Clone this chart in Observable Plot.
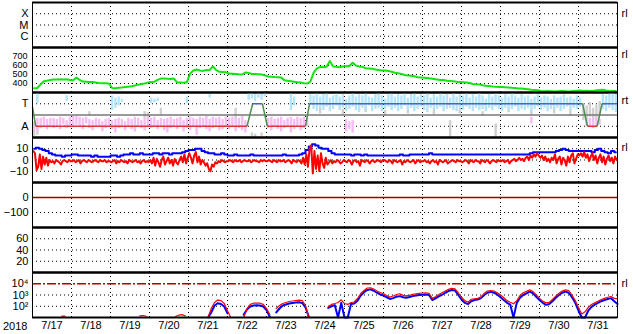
<!DOCTYPE html>
<html><head><meta charset="utf-8">
<script src="https://cdn.jsdelivr.net/npm/d3@7"></script>
<script src="https://cdn.jsdelivr.net/npm/@observablehq/plot@0.6"></script>
<style>
html,body{margin:0;padding:0;background:#fff;}
#chart{position:relative;width:633px;height:334px;overflow:hidden;font-family:"Liberation Sans",Arial,sans-serif;}
#year{position:absolute;left:3px;top:320px;font-size:11px;line-height:13px;}
</style></head><body><div id="chart"><div id="year">2018</div></div><script>
// ---------------- data ----------------
const yearLabel = "2018";
const dayLabels = ["7/17","7/18","7/19","7/20","7/21","7/22","7/23","7/24","7/25","7/26","7/27","7/28","7/29","7/30","7/31"];
const xrayTicks = [1e-4, 1e-5, 1e-6];
const xrayLabels = ["X", "M", "C"];
const vswTicks = [400, 500, 600, 700];
const sectorTicks = [1, -1];
const sectorLabels = ["T", "A"];
const bTicks = [10, 0, -10];
const dstTicks = [0, -100];
const kpTicks = [20, 40, 60];
const fluxTicks = [1e2, 1e3, 1e4];
const fluxLabels = ["10\u00b2", "10\u00b3", "10\u2074"];
const fluxAlert = 1e4;

// solar wind speed, 2-hour steps from 7/17 00h (km/s)
const vswValues = [
 348,350,390,425,432,440,445,445,446,444,448,440,
 437,465,440,422,420,418,416,410,405,404,402,400,
 350,348,352,355,360,365,370,378,385,395,400,410,
 418,420,440,455,455,452,450,455,412,410,408,415,
 510,545,555,545,540,550,548,590,550,530,528,524,
 510,508,505,502,500,522,518,505,505,503,500,490,
 478,475,472,470,468,437,430,425,420,415,410,402,
 400,420,520,567,585,580,585,650,590,585,580,588,
 592,595,630,600,590,585,570,568,565,555,550,545,
 545,540,530,520,515,505,495,490,485,480,470,468,
 465,460,455,450,445,440,438,430,428,425,420,418,
 415,410,405,395,392,390,380,375,372,368,365,362,
 360,358,355,352,350,345,345,340,335,330,328,325,
 318,315,316,314,312,315,318,316,312,314,318,320,
 322,318,320,316,318,325,328,330,322,318,316,318];

// sector boundary trace: hours and level (T=1, A=-1)
const sectorHours  = [0, 2, 132, 135.5, 141.5, 144.5, 168, 170.5, 338.5, 341.5, 347.5, 350.5, 360];
const sectorValues = [0.7, -1, -1, 1, 1, -1, -1, 1, 1, -1, -1, 1, 1];

// scatter bands, [startHour, [[lo,hi] per 2-hour bin]]
const awayBands = [
 [0, [[-1.4,-0.9],[-1.5,-0.3],[-1.2,-0.3],[-1.1,-0.2],[-1.3,-0.4],[-1.0,-0.3],[-1.2,-0.3],[-1.1,-0.4],[-1.3,-0.2],[-0.9,-0.3],[-1.2,-0.5],[-1.0,-0.2],
      [-1.1,-0.1],[-0.9,-0.1],[-1.0,-0.2],[-1.3,-0.3],[-0.8,-0.2],[-1.2,-0.4],[-1.4,-0.5],[-1.0,-0.3],[-1.1,-0.4],[-1.5,-0.6],[-1.2,-0.4],[-1.0,-0.3],
      [-1.3,-0.5],[-1.6,-0.4],[-1.2,-0.3],[-1.0,-0.4],[-1.4,-0.6],[-1.1,-0.3],[-1.3,-0.4],[-1.5,-0.2],[-1.0,-0.3],[-1.2,-0.5],[-1.4,-0.3],[-1.1,-0.2],
      [-1.2,-0.3],[-1.0,-0.2],[-1.3,-0.5],[-1.1,-0.3],[-1.4,-0.4],[-1.6,-0.3],[-1.2,-0.2],[-1.0,-0.4],[-1.3,-0.3],[-1.1,-0.2],[-1.5,-0.5],[-1.2,-0.3],
      [-1.4,-0.2],[-1.1,-0.3],[-1.8,-0.4],[-1.2,-0.2],[-1.0,-0.3],[-1.3,-0.1],[-1.5,-0.4],[-1.2,-0.2],[-1.1,-0.3],[-1.4,-0.2],[-1.3,-0.4],[-1.0,-0.2],
      [-1.3,-0.3],[-1.1,-0.2],[-1.5,-0.4],[-1.2,-0.3],[-1.4,-0.2],[-1.6,-0.5]]],
 [144, [[-1.2,-0.3],[-1.4,-0.2],[-1.0,-0.4],[-1.3,-0.3],[-1.5,-0.2],[-1.2,-0.5],[-1.1,-0.3],[-1.6,-0.2],[-1.3,-0.4],[-1.0,-0.2],[-1.4,-0.3],[-1.2,-0.2],[-1.0,-0.3]]],
 [192, [[-1.5,-0.4],[-1.3,-0.6],[-1.6,-0.5]]],
 [306, [[-0.8,-0.2]]],
 [340, [[-1.0,-0.4],[-1.1,-0.3],[-1.2,-0.3],[-1.0,-0.2],[-0.9,-0.4]]]
];
const towardBands = [
 [2, [[1.0,1.9]]],
 [20, [[1.2,1.7]]],
 [48, [[0.4,1.7],[0.6,1.5],[0.8,1.6],[1.1,1.4]]],
 [72, [[1.0,1.5],[1.1,1.4],[1.2,1.5]]],
 [94, [[1.0,1.6]]],
 [108, [[1.5,1.8]]],
 [132, [[1.3,1.9],[1.4,1.9],[1.2,1.8],[1.5,1.9],[1.3,1.8],[1.6,1.9]]],
 [158, [[0.4,1.9],[0.8,1.6]]],
 [170, [[0.9,1.8],[0.5,1.7],[0.3,1.9],[0.6,1.6],[0.4,1.8],[0.7,1.9],[0.3,1.5],[0.5,1.7],[0.8,1.9],[0.4,1.6],[0.6,1.8],[0.3,1.4],[0.5,1.7],[0.7,1.9],[0.4,1.6],
        [0.2,1.8],[0.6,1.7],[0.4,1.9],[0.8,1.6],[0.3,1.5],[0.5,1.8],[0.6,1.9],[0.3,1.7],[0.5,1.4],[0.7,1.8],[0.4,1.9],[0.6,1.6],[0.3,1.8],[0.5,1.7],[0.8,1.9],
        [0.4,1.5],[0.6,1.8],[0.3,1.9],[0.5,1.6],[0.7,1.8],[0.4,1.7],[0.2,1.9],[0.6,1.5],[0.4,1.8],[0.5,1.6],[0.7,1.9],[0.3,1.7],[0.5,1.8],[0.6,1.5],[0.4,1.9],
        [0.3,1.6],[0.6,1.8],[0.4,1.7],[0.7,1.9],[0.5,1.5],[0.3,1.8],[0.6,1.6],[0.4,1.9],[0.5,1.7],[0.3,1.4],[0.6,1.8],[0.4,1.6],[0.7,1.9],[0.5,1.7],[0.3,1.5],
        [0.6,1.8],[0.4,1.6],[0.5,1.9],[0.7,1.7],[0.3,1.5],[0.5,1.8],[0.4,1.6],[0.6,1.7],[0.3,1.4],[0.5,1.6],[0.7,1.8],[0.4,1.5],[0.6,1.7],[0.3,1.6],[0.5,1.4],
        [0.4,1.7],[0.6,1.5],[0.3,1.6],[0.5,1.8],[0.7,1.5],[0.4,1.6],[0.6,1.4],[0.5,1.7],[0.7,1.5]]],
 [350, [[0.5,1.8],[0.3,1.7],[0.6,1.9],[0.4,2.0],[0.2,1.8]]]
];
const grayBins = [[0,-1.9,-0.6],[2,-1.8,-1.0],[34,-0.1,0.3],[68,-0.3,0.3],[70,-0.2,0.2],[78,0,0.6],[124,-0.5,0.6],[128,-0.6,-0.1],
 [134,-2,-1.6],[136,-2,-1.7],[140,-1.9,-1.6],[176,0.1,0.6],[190,0,0.5],[204,0.2,0.7],[216,-0.1,0.4],[230,0.1,0.5],[246,0,0.4],
 [256,-2,-0.5],[262,0.1,0.6],[276,-0.1,0.3],[284,-2,-0.8],[292,0.2,0.6],[306,0,0.5],[320,0.1,0.7],[330,-0.1,0.5],
 [338,-0.5,1.0],[340,-0.4,0.8],[342,-0.2,1.1],[344,-0.5,0.6],[346,-0.3,0.9],[348,0,1.2]];

// IMF total field, 2-hour steps (nT)
const btValues = [
 10,11,10,9,8,6,5,4,4,3,4,4,
 5,5,4,4,4,4,3,4,3,3,3,3,
 4,4,3,4,5,5,6,5,5,6,5,5,
 5,6,6,5,6,6,5,6,6,6,7,8,
 9,9,10,10,8,7,6,6,5,5,6,5,
 4,4,5,4,4,4,4,5,4,4,4,4,
 4,4,4,4,4,5,4,4,4,4,5,6,
 9,12,14,13,11,10,10,8,6,5,5,5,
 5,5,4,5,5,4,5,4,4,4,4,4,
 4,4,4,4,4,5,4,4,5,5,5,5,
 5,5,6,5,5,5,5,5,5,5,5,5,
 5,5,5,5,5,5,5,5,5,5,5,5,
 5,5,5,5,5,5,5,5,5,6,7,7,
 7,7,7,7,7,8,9,10,9,8,8,8,
 8,8,8,8,7,9,10,8,7,6,8,7];
// IMF Bz, hourly, one row per day (nT)
const bzByDay = [
 [8,6,-9,-6,5,-8,3,-4,2,-5,0,-2,-1,-3,0,-1,-2,-4,-1,0,-1,-2,0,-1],
 [-1,0,-2,-1,0,-3,-1,0,-1,-2,0,-1,-2,-1,0,-1,-2,0,-1,-1,0,-2,-1,-1],
 [-2,-1,0,-3,-1,-2,0,-1,-2,-1,-3,0,-1,-2,-1,0,-2,-1,-3,-1,0,-2,-1,-2],
 [0,-3,2,-5,1,-2,-6,0,3,-4,-1,2,-3,0,-5,1,-2,-4,0,3,-2,5,-3,2],
 [6,2,-3,4,7,-2,3,-4,0,-2,-5,-3,-8,-10,-4,-6,-2,-3,-1,-2,0,-1,-2,-1],
 [-1,0,-1,-2,0,-1,-1,0,-2,-1,0,-1,-1,0,-2,-1,0,-1,-1,-2,0,-1,0,-1],
 [-1,0,-1,-2,0,-1,-2,0,-1,-1,0,-2,-1,0,-1,-3,0,-1,-2,0,-1,-3,2,-4],
 [5,-6,10,13,-12,8,-8,4,-10,6,-3,-7,2,-4,-2,0,-3,-1,-2,0,-1,-3,-2,0],
 [-1,-2,0,-1,-4,-1,0,-2,-1,-5,0,-1,-2,0,-1,-3,-1,0,-2,-1,0,-1,-2,0],
 [0,-1,-2,0,-1,-3,0,-1,-2,-1,0,-4,-1,-2,0,-1,-2,-1,0,-3,-1,0,-2,-1],
 [-1,0,-2,-1,-3,-1,0,-2,-1,-4,0,-1,-2,-1,0,-3,-2,-1,0,-1,-2,0,-1,-1],
 [-2,-1,0,-1,-3,0,-1,-2,0,-1,-1,-3,0,-1,-2,0,-1,-3,-1,0,-1,-2,0,-1],
 [-1,0,-2,-1,0,-3,-1,0,1,-1,0,2,0,1,-1,2,3,0,4,2,5,3,6,4],
 [2,4,0,3,-1,1,-2,2,0,5,-3,1,3,-4,2,0,-5,3,-2,4,6,-3,1,5],
 [4,6,3,7,2,5,-1,3,6,0,4,-3,2,5,-2,3,-4,1,4,-1,2,-3,3,0]];

const dstLevel = 0;

// particle flux segments: [startHour, values at 2-hour steps]
const fluxRed = [
 [18, [13,13]],
 [66, [14,15,13]],
 [88, [12,16,18,14]],
 [108, [10,63,215,355,316,174,40,10]],
 [130, [10,63,145,186,195,186,145,63,18]],
 [150, [63,117,174,215,265,293,324,355,324,117,10]],
 [182, [95,145,174,215,372,174,145,215,240,490,1350,2510,4170,4365,3390,2290,1660,1290,910,660,813,1100,1290,
        933,851,933,1122,1259,1413,1514,1585,1413,501,708,1122,1585,2239,3162,3981,3548,1585,631,316,229,417,457,501,708,
        1413,2239,2512,2239,1585,1000,562,316,224,166,316,891,1585,2089,2884,1995,1000,501,282,200,224,398,794,1413,2239,
        2818,2512,1000,316,79,20,32,79,141,200,282,398,501,631,741,501,457]]
];
const fluxBlue = [
 [108, [10,28,117,186,158,95,23]],
 [130, [18,51,95,117,123,117,95,47,12]],
 [150, [28,63,117,145,174,195,215,229,195,78,12]],
 [182, [71,100,126,10,200,10,10,158,178,316,891,1778,2818,3162,2399,1585,1122,891,631,447,525,708,794,
        631,562,661,794,891,1000,1047,1122,1000,355,501,759,1047,1585,2239,2818,2512,1000,398,200,158,282,355,398,525,
        1000,1585,1905,1585,1122,631,355,200,141,10,200,562,1000,1413,1995,1413,708,355,200,132,158,282,562,1000,1585,
        1995,1585,631,200,40,10,10,40,89,141,200,282,355,447,525,282,158]]
];

// ---------------- helpers ----------------
const FONT = '"Liberation Sans", Arial, sans-serif';
const t0 = Date.UTC(2018, 6, 17);
const T = h => new Date(t0 + h * 3600e3);
const xDomain = [T(0), T(360)];
const midnights = d3.range(1, 15).map(d => T(24 * d));
const noons = dayLabels.map((_, i) => T(24 * i + 12));
const dayLabelOf = d => dayLabels[Math.round((+d - t0) / 864e5 - 0.5)];
const chart = document.getElementById("chart");
const DOT = "1,3";

function bins(segs) {
  return segs.flatMap(([start, pairs]) => pairs.map(([lo, hi], i) => ({h: start + 2 * i, lo, hi})));
}
function series(segs) {
  return segs.flatMap(([start, vals], s) => vals.map((v, i) => ({h: start + 2 * i, v, s})));
}
function frameMarks(lo, hi) {
  return [Plot.frame({stroke: "black"}), Plot.ruleY([lo, hi], {stroke: "black", strokeWidth: 2})];
}
function vgrid() {
  return Plot.ruleX(midnights, {stroke: "black", strokeDasharray: DOT});
}
function sideLabel(txt, yv, dy = -1) {
  return Plot.text([txt], {x: () => xDomain[1], y: () => yv, text: d => d, dx: 4, dy, textAnchor: "start", fontSize: 11});
}
function addPanel(index, y, marks, opts = {}) {
  const bottom = opts.bottom ?? 1;
  const svg = Plot.plot({
    width: 633, height: 46 + bottom,
    marginLeft: 32, marginRight: 16, marginTop: 1, marginBottom: bottom,
    style: {background: "transparent", overflow: "visible", fontFamily: FONT, fontSize: opts.fontSize ?? "11px", color: "black"},
    x: opts.x ?? {type: "utc", domain: xDomain, axis: null},
    y: {tickSize: 0, tickPadding: 4, label: null, ...y},
    color: {type: "identity"},
    marks
  });
  svg.style.position = "absolute";
  svg.style.left = "0px";
  svg.style.top = (1 + 45 * index) + "px";
  chart.append(svg);
}

// Panel 0: X-ray class
addPanel(0, {type: "log", domain: [1e-7, 1e-3], ticks: xrayTicks, tickFormat: d => xrayLabels[xrayTicks.indexOf(d)]}, [
  vgrid(),
  Plot.ruleY(xrayTicks, {stroke: "black", strokeDasharray: DOT}),
  ...frameMarks(1e-7, 1e-3),
  sideLabel("rl", 1e-4, 0)
]);

// Panel 1: solar wind speed
addPanel(1, {domain: [300, 800], ticks: vswTicks, tickPadding: 5}, [
  vgrid(),
  Plot.ruleY(vswTicks, {stroke: "black", strokeDasharray: DOT}),
  Plot.line(vswValues, {x: (d, i) => T(2 * i + 1), y: d => d, stroke: "#11e611", strokeWidth: 2}),
  ...frameMarks(300, 800),
  sideLabel("rl", 700, -2)
], {fontSize: "9px"});

// Panel 2: sector
const sectorSegs = sectorHours.slice(1).map((h, i) => ({h1: sectorHours[i], v1: sectorValues[i], h2: h, v2: sectorValues[i + 1]}));
addPanel(2, {domain: [-2, 2], ticks: sectorTicks, tickFormat: d => sectorLabels[sectorTicks.indexOf(d)]}, [
  vgrid(),
  Plot.ruleY(sectorTicks, {stroke: "black", strokeDasharray: DOT}),
  Plot.ruleX(grayBins.map(([h, lo, hi]) => ({h, lo, hi})), {x: d => T(d.h + 1), y1: "lo", y2: "hi", stroke: "#d0d0d0", strokeWidth: 2.4}),
  Plot.ruleX(bins(towardBands), {x: d => T(d.h + 1), y1: "lo", y2: "hi", stroke: "#b2e5f7", strokeWidth: 2.4}),
  Plot.ruleX(bins(awayBands), {x: d => T(d.h + 1), y1: "lo", y2: "hi", stroke: "#f6bcf3", strokeWidth: 2.4}),
  Plot.ruleY([0], {stroke: "#777777", strokeWidth: 1.5}),
  Plot.link(sectorSegs, {x1: d => T(d.h1), y1: "v1", x2: d => T(d.h2), y2: "v2", strokeWidth: 1.5,
    stroke: d => d.v1 === d.v2 ? (d.v1 < 0 ? "#e03535" : "#4a5ee0") : "#4f8f4f"}),
  ...frameMarks(-2, 2),
  sideLabel("rt", 1, -3)
]);

// Panel 3: IMF
addPanel(3, {domain: [-20, 20], ticks: bTicks}, [
  vgrid(),
  Plot.ruleY(bTicks, {stroke: "black", strokeDasharray: DOT}),
  Plot.line(btValues, {x: (d, i) => T(2 * i + 1), y: d => d, stroke: "#0000ff", strokeWidth: 2, curve: "step"}),
  Plot.line(bzByDay.flat(), {x: (d, i) => T(i + 0.5), y: d => d, stroke: "#ff0000", strokeWidth: 2}),
  ...frameMarks(-20, 20),
  sideLabel("rl", 10, -1)
]);

// Panel 4: Dst
addPanel(4, {domain: [-200, 100], ticks: dstTicks}, [
  vgrid(),
  Plot.ruleY([-100], {stroke: "black", strokeDasharray: DOT}),
  Plot.ruleY([dstLevel], {stroke: "#a00000", strokeWidth: 1.5}),
  ...frameMarks(-200, 100)
]);

// Panel 5: index panel (empty)
addPanel(5, {domain: [0, 80], ticks: kpTicks}, [
  vgrid(),
  Plot.ruleY(kpTicks, {stroke: "black", strokeDasharray: DOT}),
  ...frameMarks(0, 80)
]);

// Panel 6: particle flux
addPanel(6, {type: "log", domain: [10, 1e5], ticks: fluxTicks, tickFormat: d => fluxLabels[fluxTicks.indexOf(d)]}, [
  vgrid(),
  Plot.ruleY([1e2, 1e3], {stroke: "black", strokeDasharray: DOT}),
  Plot.ruleY([fluxAlert], {stroke: "#b00000", strokeWidth: 1.5, strokeDasharray: "9,2,2,2"}),
  Plot.line(series(fluxBlue), {x: d => T(d.h), y: "v", z: "s", stroke: "#0000ff", strokeWidth: 2}),
  Plot.line(series(fluxRed), {x: d => T(d.h), y: "v", z: "s", stroke: "#ff0000", strokeWidth: 1.2}),
  ...frameMarks(10, 1e5),
  sideLabel("rl", 1e4, 0)
], {bottom: 17, x: {type: "utc", domain: xDomain, ticks: noons, tickFormat: dayLabelOf, tickSize: 0, tickPadding: 4, label: null}});

document.getElementById("year").textContent = yearLabel;
</script></body></html>
